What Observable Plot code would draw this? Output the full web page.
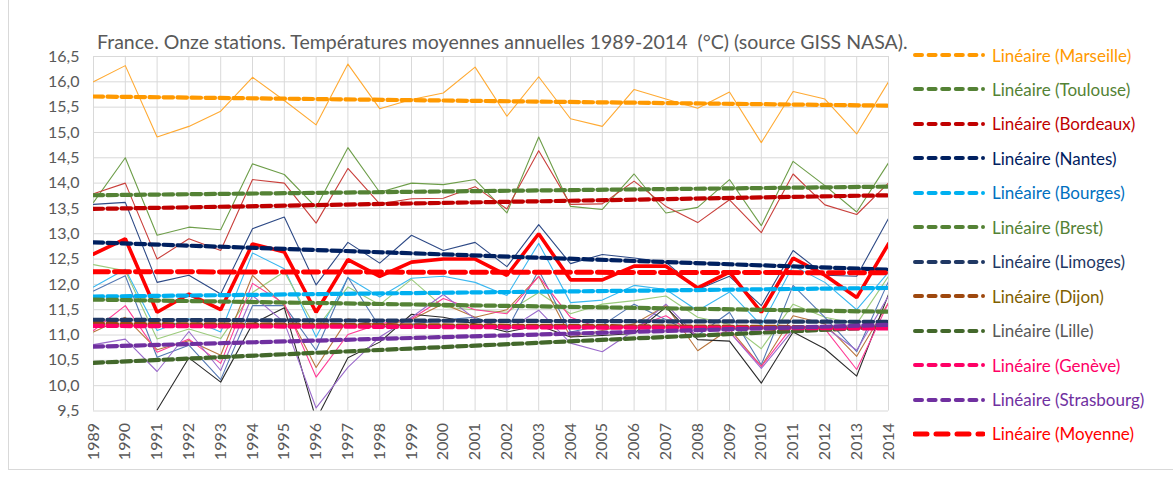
<!DOCTYPE html>
<html><head><meta charset="utf-8">
<script src="https://cdn.jsdelivr.net/npm/d3@7"></script>
<script src="https://cdn.jsdelivr.net/npm/@observablehq/plot@0.6"></script>
<style>
body{margin:0;background:#fff;font-family:Lato,"Liberation Sans",sans-serif;}
#wrap{position:relative;width:1173px;height:477px;overflow:hidden;background:#fff}
#chart{position:absolute;left:0;top:0}
#title{position:absolute;left:97px;top:30px;font-size:19.5px;color:#595959;white-space:pre}
#legend{position:absolute;left:913px;top:0;width:260px;height:477px}
.row{position:absolute;left:0;height:22px;display:flex;align-items:center;white-space:nowrap}
.row svg{margin-right:7px;flex:none}
.row span{font-size:17px}
#border{position:absolute;left:8px;top:-2px;width:1170px;height:471px;border-left:1px solid #d9d9d9;border-bottom:1px solid #d9d9d9}
</style></head>
<body>
<div id="wrap">
  <div id="border"></div>
  <div id="chart"></div>
  <div id="title">France. Onze stations. Températures moyennes annuelles 1989-2014  (°C) (source GISS NASA).</div>
  <div id="legend"></div>
</div>
<script>
// ---- data ----
const years = [1989,1990,1991,1992,1993,1994,1995,1996,1997,1998,1999,2000,2001,2002,2003,2004,2005,2006,2007,2008,2009,2010,2011,2012,2013,2014];
const yTicks = [9.5,10,10.5,11,11.5,12,12.5,13,13.5,14,14.5,15,15.5,16,16.5];
const stations = ["Marseille","Toulouse","Bordeaux","Nantes","Bourges","Brest","Limoges","Dijon","Lille","Genève","Strasbourg","Moyenne"];

const marseille = [16.0,16.32,14.91,15.12,15.42,16.09,15.63,15.15,16.35,15.47,15.65,15.78,16.29,15.32,16.10,15.27,15.12,15.85,15.66,15.48,15.80,14.80,15.81,15.66,14.97,16.0];
const toulouse = [13.62,14.50,12.97,13.13,13.08,14.38,14.17,13.52,14.70,13.82,14.00,13.97,14.07,13.41,14.91,13.54,13.48,14.18,13.41,13.52,14.07,13.16,14.43,13.95,13.43,14.40];
const bordeaux = [13.79,14.00,12.50,12.90,12.67,14.07,14.00,13.21,14.29,13.59,13.69,13.70,13.93,13.49,14.64,13.58,13.59,14.04,13.54,13.22,13.67,13.02,14.18,13.57,13.38,14.00];
const nantes = [13.58,13.62,12.04,12.18,11.81,13.10,13.33,11.99,12.83,12.42,12.97,12.67,12.83,12.35,13.18,12.41,12.59,12.52,12.44,11.90,12.16,11.58,12.67,12.18,12.16,13.30];
const bourges = [11.95,12.30,11.09,11.32,11.06,12.62,12.31,10.96,12.13,11.75,12.12,12.16,12.04,11.78,12.81,11.64,11.69,11.98,11.90,11.48,11.85,11.19,12.37,12.04,11.50,12.24];
const brest = [12.39,12.27,10.92,11.12,10.93,11.84,12.25,11.12,11.95,11.60,12.10,11.55,11.50,11.45,11.84,11.42,11.61,11.68,11.77,11.35,11.21,10.73,11.61,11.35,11.22,12.16];
const limoges = [11.87,12.17,10.56,10.80,10.12,11.58,11.58,10.70,12.14,11.16,11.21,11.30,11.35,11.10,12.28,11.06,11.19,11.61,11.30,10.99,11.45,10.41,11.98,11.35,10.67,12.06];
const dijon = [11.06,11.35,10.71,10.89,10.60,12.18,11.58,10.36,11.32,11.19,11.30,11.62,11.35,11.50,12.16,10.96,11.09,11.22,11.58,10.69,11.12,10.38,11.38,11.22,10.58,11.64];
const lille = [null,null,9.52,10.55,10.07,11.22,11.54,9.33,10.55,10.86,11.41,11.35,11.22,11.06,11.19,10.96,10.99,11.03,11.55,10.91,10.88,10.05,11.06,10.73,10.19,11.80];
const geneve = [11.09,11.58,10.66,10.92,10.44,12.02,11.62,10.17,11.01,11.22,11.32,11.72,11.50,11.42,12.16,11.35,11.12,11.16,11.38,10.99,11.06,10.38,11.19,11.12,10.32,11.64];
const strasbourg = [10.81,10.92,10.28,11.07,10.30,11.78,11.25,9.56,10.36,10.96,11.35,11.80,11.32,11.09,11.49,10.84,10.67,11.09,11.61,10.96,11.06,10.34,11.10,11.16,10.70,11.77];
const moyenne = [12.60,12.90,11.45,11.81,11.50,12.80,12.64,11.45,12.49,12.16,12.44,12.50,12.50,12.18,13.00,12.09,12.09,12.36,12.36,11.93,12.24,11.45,12.52,12.18,11.74,12.80];

// linear trend lines (value at 1989, value at 2014)
const trendStart = [15.71,13.76,13.49,12.83,11.76,11.70,11.30,11.22,10.45,11.18,10.77,12.25];
const trendEnd   = [15.53,13.93,13.76,12.29,11.93,11.46,11.26,11.15,11.16,11.13,11.20,12.23];

const lineColors  = ["#FFAA33","#6E9E4A","#C9403C","#2E4A86","#3CB8F0","#9CCB7C","#5478B3","#B8763F","#2B2B2B","#FF3C96","#9B6BCB","#FF0000"];
const trendColors = ["#FF9900","#548235","#C00000","#002060","#00B0F0","#548235","#203864","#9E480E","#43682B","#FF0066","#7030A0","#FF0000"];
const textColors  = ["#FF9900","#548235","#C00000","#002060","#0070C0","#548235","#1F3864","#7F6000","#595959","#FF0066","#7030A0","#FF0000"];

const seriesArrays = [marseille,toulouse,bordeaux,nantes,bourges,brest,limoges,dijon,lille,geneve,strasbourg,moyenne];

// ---- build tables ----
const series = stations.map((s,i)=>years.map((y,j)=>({station:s, year:y, value:seriesArrays[i][j]})));
const trends = stations.map((s,i)=>[{station:s,year:years[0],value:trendStart[i]},{station:s,year:years[years.length-1],value:trendEnd[i]}]);

const fmt = d => d.toFixed(1).replace(".", ",");

const marks = [
  Plot.gridY(yTicks, {stroke:"#d9d9d9", strokeOpacity:1, strokeWidth:1}),
  Plot.gridX(years, {stroke:"#d9d9d9", strokeOpacity:1, strokeWidth:1}),
  Plot.axisY(yTicks, {label:null, tickSize:0, tickPadding:14, tickFormat:fmt, fontSize:16, fill:"#595959"}),
  Plot.axisX(years, {label:null, tickSize:0, tickPadding:12, tickRotate:-90, tickFormat:d=>String(d), fontSize:16, fill:"#595959"})
];
// thin station lines
for (let i=0;i<11;i++){
  marks.push(Plot.lineY(series[i], {x:"year", y:"value", stroke:lineColors[i], strokeWidth:1.1, clip:true}));
}
// average line (thick)
marks.push(Plot.lineY(series[11], {x:"year", y:"value", stroke:lineColors[11], strokeWidth:3.6, clip:true, strokeLinejoin:"miter"}));
// trend lines
for (let i=0;i<12;i++){
  const avg = i===11;
  marks.push(Plot.lineY(trends[i], {x:"year", y:"value", stroke:trendColors[i],
    strokeWidth: avg?5:4.2, strokeDasharray: avg?"15,6":"9.5,4.5", clip:true}));
}

const chart = Plot.plot({
  width:1173, height:477,
  marginLeft:93, marginRight:285, marginTop:56, marginBottom:66.5,
  x:{domain:[1989,2014], axis:null, label:null},
  y:{domain:[9.5,16.5], axis:null, label:null},
  style:{fontFamily:"Lato, 'Liberation Sans', sans-serif", fontSize:"16px", color:"#595959", background:"transparent"},
  marks
});
document.getElementById("chart").appendChild(chart);

// ---- legend ----
const leg = document.getElementById("legend");
const rowCenters0 = 55, rowStep = 34.45;
stations.forEach((s,i)=>{
  const avg = i===11;
  const row = document.createElement("div");
  row.className = "row";
  row.style.top = (rowCenters0 + i*rowStep - 11) + "px";
  const ns = "http://www.w3.org/2000/svg";
  const sv = document.createElementNS(ns,"svg");
  sv.setAttribute("width","72"); sv.setAttribute("height","10");
  const ln = document.createElementNS(ns,"line");
  ln.setAttribute("x1","2"); ln.setAttribute("x2","70");
  ln.setAttribute("y1","5"); ln.setAttribute("y2","5");
  ln.setAttribute("stroke",trendColors[i]);
  ln.setAttribute("stroke-width", avg?"5":"4");
  ln.setAttribute("stroke-linecap","round");
  ln.setAttribute("stroke-dasharray", avg?"12,9":"7,6.6");
  sv.appendChild(ln);
  row.appendChild(sv);
  const sp = document.createElement("span");
  sp.textContent = "Linéaire (" + s + ")";
  sp.style.color = textColors[i];
  row.appendChild(sp);
  leg.appendChild(row);
});
</script>
</body></html>
